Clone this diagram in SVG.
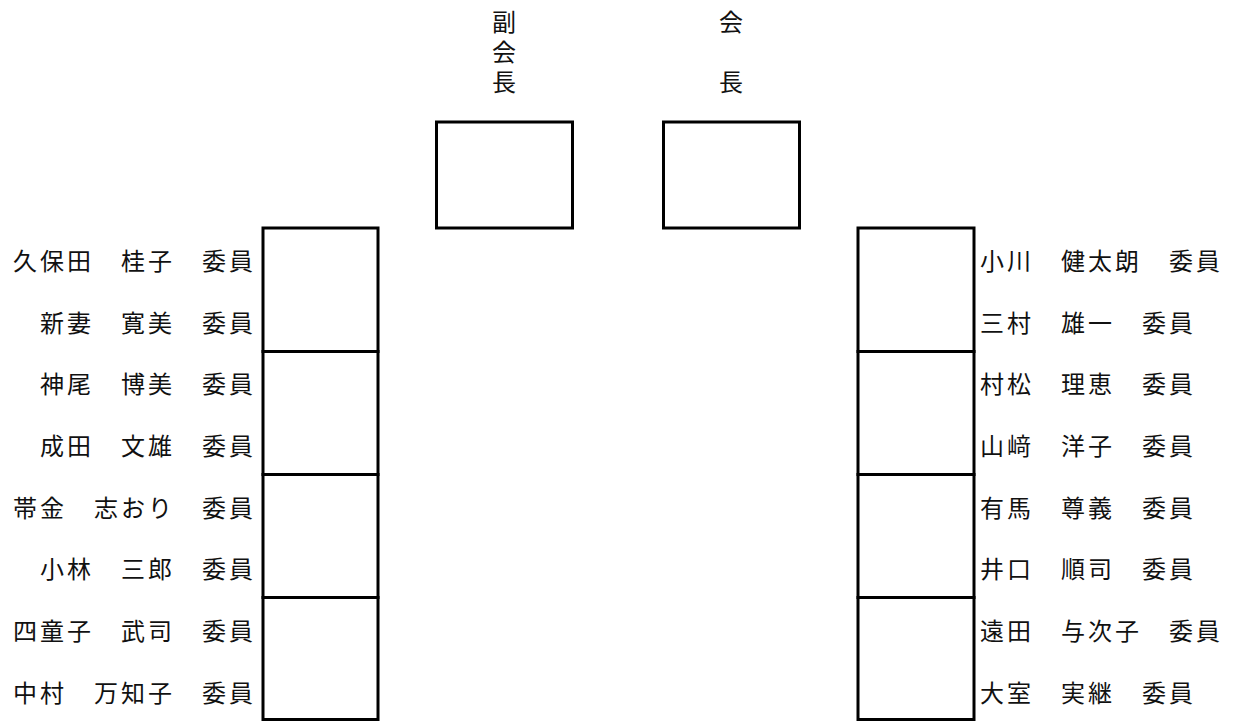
<svg xmlns="http://www.w3.org/2000/svg" width="1235" height="722" viewBox="0 0 1235 722">
<style>
.seat{fill:#fff;stroke:#000;stroke-width:3}
.t{font-family:"Noto Sans CJK JP","Noto Sans CJK SC",sans-serif;font-size:24px;letter-spacing:3px;fill:#111;dominant-baseline:central}
.v{font-family:"Noto Sans CJK JP","Noto Sans CJK SC",sans-serif;font-size:24px;letter-spacing:6px;fill:#111;writing-mode:vertical-rl}
</style>
<rect width="1235" height="722" fill="#fff"/>
<g id="vice-chair">
<rect class="seat" x="436.5" y="122" width="136" height="106"/>
<text class="v" x="504" y="10">副会長</text>
</g>
<g id="chair">
<rect class="seat" x="663.5" y="122" width="136" height="106"/>
<text class="v" x="731" y="10">会　長</text>
</g>
<g id="left-seats">
<rect class="seat" x="263" y="228" width="115" height="123.5"/>
<rect class="seat" x="263" y="351.5" width="115" height="123"/>
<rect class="seat" x="263" y="474.5" width="115" height="123"/>
<rect class="seat" x="263" y="597.5" width="115" height="122"/>
</g>
<g id="right-seats">
<rect class="seat" x="858" y="228" width="116" height="123.5"/>
<rect class="seat" x="858" y="351.5" width="116" height="123"/>
<rect class="seat" x="858" y="474.5" width="116" height="123"/>
<rect class="seat" x="858" y="597.5" width="116" height="122"/>
</g>
<g id="left-names">
<text class="t" x="13" y="259">久保田　桂子　委員</text>
<text class="t" x="40" y="321">新妻　寛美　委員</text>
<text class="t" x="40" y="382">神尾　博美　委員</text>
<text class="t" x="40" y="444">成田　文雄　委員</text>
<text class="t" x="13" y="506">帯金　志おり　委員</text>
<text class="t" x="40" y="567">小林　三郎　委員</text>
<text class="t" x="13" y="629">四童子　武司　委員</text>
<text class="t" x="13" y="691">中村　万知子　委員</text>
</g>
<g id="right-names">
<text class="t" x="980" y="259">小川　健太朗　委員</text>
<text class="t" x="980" y="321">三村　雄一　委員</text>
<text class="t" x="980" y="382">村松　理恵　委員</text>
<text class="t" x="980" y="444">山﨑　洋子　委員</text>
<text class="t" x="980" y="506">有馬　尊義　委員</text>
<text class="t" x="980" y="567">井口　順司　委員</text>
<text class="t" x="980" y="629">遠田　与次子　委員</text>
<text class="t" x="980" y="691">大室　実継　委員</text>
</g>
</svg>
